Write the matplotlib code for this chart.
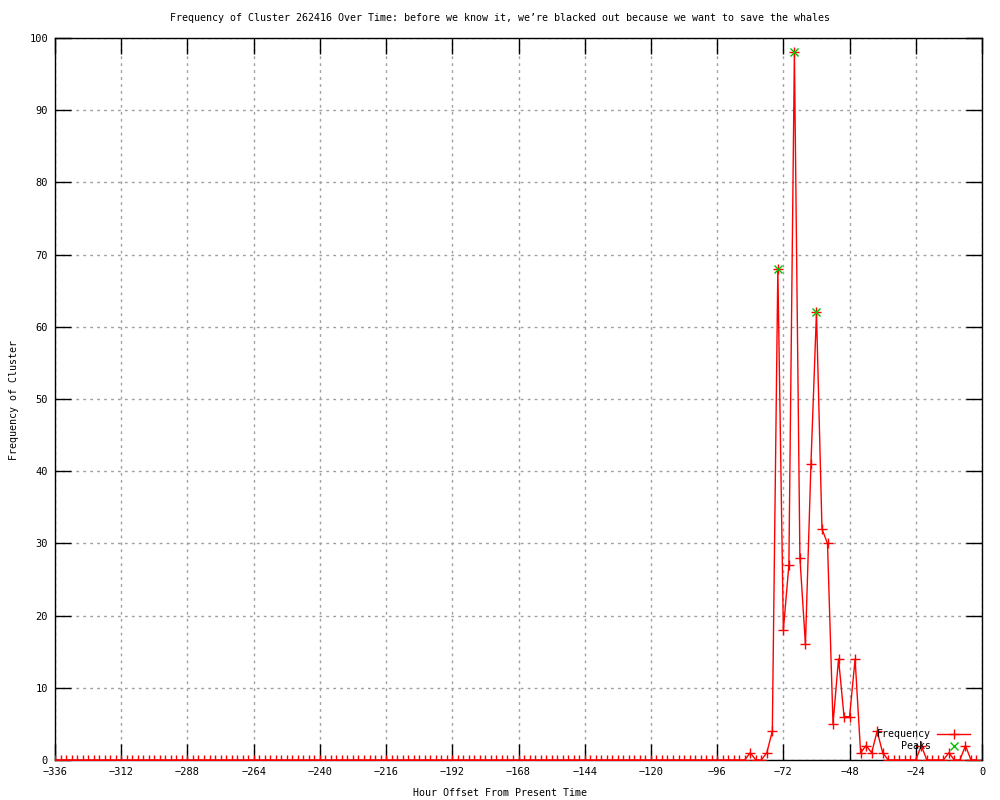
import numpy as np
import matplotlib
matplotlib.use("Agg")
import matplotlib.pyplot as plt

# hourly offsets, 2-hour bins from -336 up to -2
hours = list(range(-336, 0, 2))

# non-zero counts, everything else is 0
nonzero = {
    -84: 1, -78: 1, -76: 4, -74: 68, -72: 18, -70: 27, -68: 98,
    -66: 28, -64: 16, -62: 41, -60: 62, -58: 32, -56: 30, -54: 5,
    -52: 14, -50: 6, -48: 6, -46: 14, -44: 1, -42: 2, -40: 1,
    -38: 4, -36: 1, -22: 2, -12: 1, -6: 2,
}
frequency = [nonzero.get(h, 0) for h in hours]

peak_hours = [-74, -68, -60]
peak_values = [68, 98, 62]

xticks = list(range(-336, 1, 24))
yticks = list(range(0, 101, 10))

title = "Frequency of Cluster 262416 Over Time: before we know it, we\u2019re blacked out because we want to save the whales"

plt.rcParams['font.family'] = ['DejaVu Sans Mono']
fs = 7.2

fig = plt.figure(figsize=(10, 8), dpi=100)
ax = fig.add_axes([0.055, 0.05, 0.927, 0.9025])

ax.plot(hours, frequency, color='red', lw=1, marker='+', ms=7, mew=1,
        label='Frequency', zorder=3)
ax.plot(peak_hours, peak_values, ls='none', color='#00c000', marker='x',
        ms=6, mew=1, label='Peaks', zorder=4)

ax.set_xlim(-336, 0)
ax.set_ylim(0, 100)
ax.set_xticks(xticks)
ax.set_yticks(yticks)
ax.set_xticklabels([str(t).replace('-', '\u2212') if t else '0' for t in xticks])
ax.tick_params(direction='in', length=11.5, width=1, top=True, right=True,
               labelsize=7.5, color='black')
ax.tick_params(axis='y', pad=5)
ax.tick_params(axis='x', pad=5)
ax.grid(True, color='#a0a0a0', ls=(0, (2, 3)), lw=1)
for s in ax.spines.values():
    s.set_linewidth(1)

fig.text(0.5, 1 - 793 / 800, "Hour Offset From Present Time",
         ha='center', va='center', fontsize=fs)
fig.text(14 / 1000, 0.5, "Frequency of Cluster", rotation=90,
         ha='center', va='center', fontsize=fs)
fig.text(0.5, 1 - 18 / 800, title, ha='center', va='center', fontsize=fs)

ax.legend(loc='lower right', bbox_to_anchor=(970 / 1000, 1 - 751 / 800),
          bbox_transform=fig.transFigure, frameon=False, markerfirst=False,
          fontsize=fs, handlelength=3.3, handletextpad=0.6, borderpad=0,
          labelspacing=0.2, borderaxespad=0)

fig.savefig('out.png', dpi=100)
